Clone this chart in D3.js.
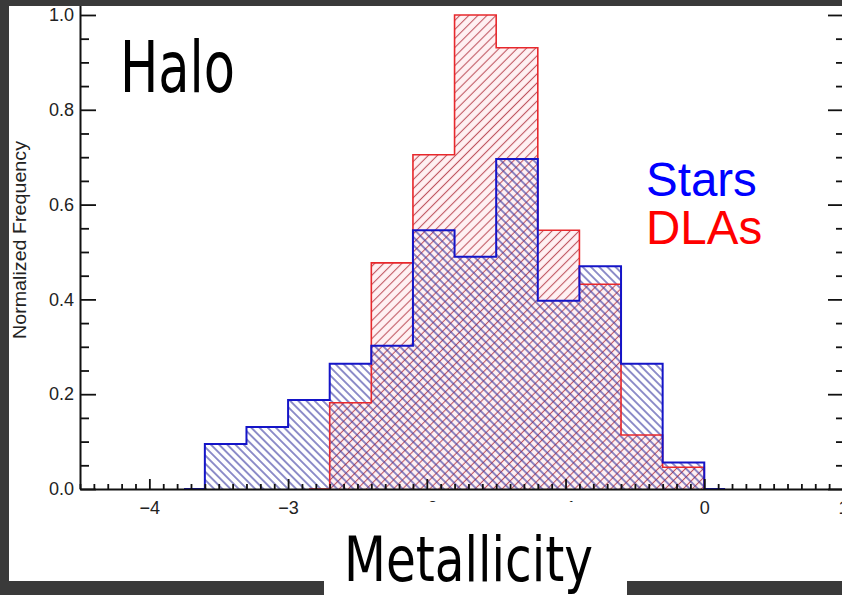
<!DOCTYPE html>
<html>
<head>
<meta charset="utf-8">
<script src="https://cdn.jsdelivr.net/npm/d3@7"></script>
<style>
  html, body { margin: 0; padding: 0; background: #3a3a3a; }
  svg { display: block; }
</style>
</head>
<body>
<svg id="chart" width="842" height="595"></svg>
<script>
// Metallicity bins (lower edges, dex) and normalised counts
const binStart = [-3.6, -3.3, -3.0, -2.7, -2.4, -2.1, -1.8, -1.5, -1.2, -0.9, -0.6, -0.3];
const binWidth = 0.3;
const starsFreq = [0.095, 0.131, 0.188, 0.264, 0.302, 0.546, 0.490, 0.696, 0.397, 0.470, 0.264, 0.056];
const dlaFreq   = [0, 0, 0, 0.182, 0.477, 0.705, 1.000, 0.931, 0.546, 0.432, 0.114, 0.046];

const xMajorTicks = [-4, -3, -2, -1, 0, 1];
const yMajorTicks = [0, 0.2, 0.4, 0.6, 0.8, 1.0];
const seriesNames = ["Stars", "DLAs"];

const W = 842, H = 595;
const svg = d3.select("#chart");

// page: dark slide with a white panel
svg.append("rect").attr("width", W).attr("height", H).attr("fill", "#3a3a3a");
svg.append("rect").attr("x", 9).attr("y", 6).attr("width", W - 9).attr("height", 575).attr("fill", "#ffffff");

const x = d3.scaleLinear().domain([-4.5, 1.0]).range([80, 843]);
const y = d3.scaleLinear().domain([0, 1.02]).range([489, 5.5]);

// hatch patterns
const defs = svg.append("defs");
function hatch(id, angle, spacing, color) {
  const p = defs.append("pattern")
    .attr("id", id)
    .attr("patternUnits", "userSpaceOnUse")
    .attr("width", spacing).attr("height", 10)
    .attr("patternTransform", `rotate(${angle})`);
  p.append("line")
    .attr("x1", spacing / 2).attr("y1", 0)
    .attr("x2", spacing / 2).attr("y2", 10)
    .attr("stroke", color).attr("stroke-width", 1.1);
}
hatch("hatchDla", 45, 6.4, "#bf5560");
hatch("hatchStars", -45, 5.8, "#33339e");

// clip everything to the white panel
defs.append("clipPath").attr("id", "panel")
  .append("rect").attr("x", 9).attr("y", 6).attr("width", W - 9).attr("height", 575);

const g = svg.append("g").attr("clip-path", "url(#panel)");

function bins(values) {
  return binStart.map((b, i) => ({ x0: b, x1: b + binWidth, v: values[i] }))
    .filter(d => d.v > 0);
}

function areaPath(values) {
  const b = bins(values);
  const p = d3.path();
  p.moveTo(x(b[0].x0), y(0));
  b.forEach(d => { p.lineTo(x(d.x0), y(d.v)); p.lineTo(x(d.x1), y(d.v)); });
  p.lineTo(x(b[b.length - 1].x1), y(0));
  p.closePath();
  return p.toString();
}

// step outline with half-bin zero tails on each side
function outlinePath(values) {
  const b = bins(values);
  const p = d3.path();
  p.moveTo(x(b[0].x0 - binWidth / 2), y(0));
  p.lineTo(x(b[0].x0), y(0));
  b.forEach(d => { p.lineTo(x(d.x0), y(d.v)); p.lineTo(x(d.x1), y(d.v)); });
  const last = b[b.length - 1];
  p.lineTo(x(last.x1), y(0));
  p.lineTo(x(last.x1 + binWidth / 2), y(0));
  return p.toString();
}

// fills
g.append("path").attr("d", areaPath(dlaFreq)).attr("fill", "#fff1f3");
g.append("path").attr("d", areaPath(dlaFreq)).attr("fill", "url(#hatchDla)");
g.append("path").attr("d", areaPath(starsFreq)).attr("fill", "url(#hatchStars)");

// outlines
g.append("path").attr("d", outlinePath(dlaFreq))
  .attr("fill", "none").attr("stroke", "#e8282c").attr("stroke-width", 1.6);
g.append("path").attr("d", outlinePath(starsFreq))
  .attr("fill", "none").attr("stroke", "#1414c8").attr("stroke-width", 2);

// axes
const minor = (lo, hi, step, majors) =>
  d3.range(Math.round(lo / step), Math.round(hi / step) + 1)
    .map(k => +(k * step).toFixed(3))
    .filter(v => !majors.some(m => Math.abs(m - v) < 1e-6));

const xMinor = minor(-4.5, 1.0, 0.1, xMajorTicks);
const yMinor = minor(0, 1.0, 0.05, yMajorTicks);
const fmtMinus = d => d3.format("d")(d).replace("-", "\u2212");

function styleAxis(sel) {
  sel.selectAll("path.domain").attr("stroke", "#111").attr("stroke-width", 2);
  sel.selectAll(".tick line").attr("stroke", "#111").attr("stroke-width", 1.8);
  sel.selectAll(".tick text")
    .attr("font-family", "Liberation Sans, Arial, sans-serif")
    .attr("font-size", 18).attr("fill", "#222");
}

// bottom
g.append("g").attr("transform", `translate(0,${y(0)})`)
  .call(d3.axisBottom(x).tickValues(xMinor).tickSize(-5).tickFormat(""))
  .call(s => s.select(".domain").remove())
  .call(styleAxis);
g.append("g").attr("transform", `translate(0,${y(0)})`)
  .call(d3.axisBottom(x).tickValues(xMajorTicks).tickSizeInner(-10).tickSizeOuter(0)
    .tickPadding(12).tickFormat(fmtMinus))
  .call(styleAxis);

// left
g.append("g").attr("transform", `translate(${x(-4.5)},0)`)
  .call(d3.axisLeft(y).tickValues(yMinor).tickSize(-9).tickFormat(""))
  .call(s => s.select(".domain").remove())
  .call(styleAxis);
g.append("g").attr("transform", `translate(${x(-4.5)},0)`)
  .call(d3.axisLeft(y).tickValues(yMajorTicks).tickSizeInner(-16).tickSizeOuter(0)
    .tickPadding(6).tickFormat(d3.format(".1f")))
  .call(styleAxis);

// right
g.append("g").attr("transform", `translate(${x(1.0)},0)`)
  .call(d3.axisRight(y).tickValues(yMinor).tickSize(-7).tickFormat(""))
  .call(s => s.select(".domain").remove())
  .call(styleAxis);
g.append("g").attr("transform", `translate(${x(1.0)},0)`)
  .call(d3.axisRight(y).tickValues(yMajorTicks).tickSizeInner(-15).tickSizeOuter(0).tickFormat(""))
  .call(styleAxis);

// y-axis title
svg.append("text")
  .attr("transform", "translate(26,240) rotate(-90)")
  .attr("text-anchor", "middle")
  .attr("font-family", "Liberation Sans, Arial, sans-serif")
  .attr("font-size", 18.5)
  .attr("textLength", 198).attr("lengthAdjust", "spacingAndGlyphs")
  .attr("fill", "#222")
  .text("Normalized Frequency");

// panel title
svg.append("text")
  .attr("x", 120).attr("y", 92)
  .attr("font-family", "Liberation Sans Narrow, DejaVu Sans Condensed, sans-serif")
  .attr("font-size", 72)
  .attr("textLength", 115).attr("lengthAdjust", "spacingAndGlyphs")
  .attr("fill", "#000")
  .text("Halo");

// legend
const legendColors = ["#0000ff", "#ff0000"];
svg.selectAll("text.legend").data(seriesNames).join("text")
  .attr("class", "legend")
  .attr("x", 646).attr("y", (d, i) => 196 + i * 48)
  .attr("font-family", "Liberation Sans, Arial, sans-serif")
  .attr("font-size", 47.5)
  .attr("fill", (d, i) => legendColors[i])
  .text(d => d);

// bottom dark strip and x-axis title box
svg.append("rect").attr("x", 0).attr("y", 581).attr("width", W).attr("height", H - 581).attr("fill", "#3a3a3a");
svg.append("rect").attr("x", 324).attr("y", 502).attr("width", 303).attr("height", H - 502).attr("fill", "#ffffff");
svg.append("text")
  .attr("x", 344).attr("y", 581)
  .attr("font-family", "Liberation Sans Narrow, DejaVu Sans Condensed, sans-serif")
  .attr("font-size", 62)
  .attr("textLength", 249).attr("lengthAdjust", "spacingAndGlyphs")
  .attr("fill", "#000")
  .text("Metallicity");
</script>
</body>
</html>
